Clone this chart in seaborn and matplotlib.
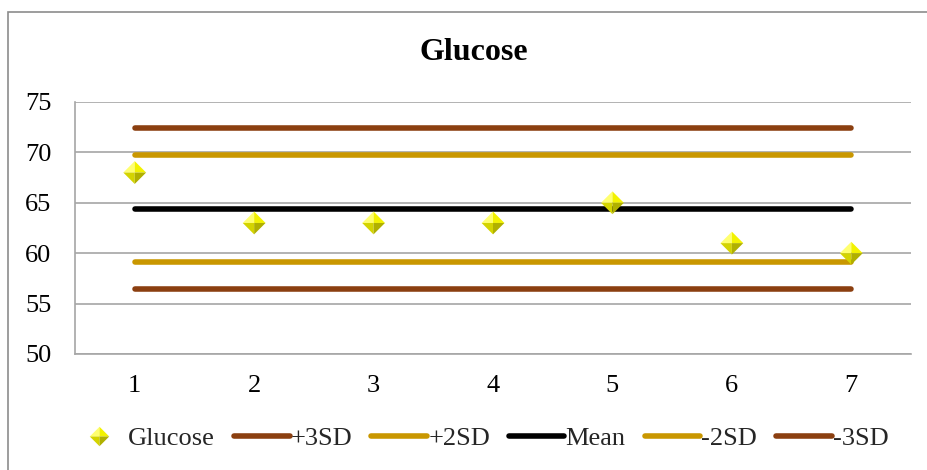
import matplotlib
matplotlib.use("Agg")
import matplotlib.pyplot as plt
import seaborn as sns
import pandas as pd
from matplotlib.patches import Rectangle
from matplotlib.legend_handler import HandlerTuple
from matplotlib.lines import Line2D

# ---- data ----
samples = [1, 2, 3, 4, 5, 6, 7]
glucose = [68, 63, 63, 63, 65, 61, 60]
limit_names = ["+3SD", "+2SD", "Mean", "-2SD", "-3SD"]
limit_values = [72.4, 69.7, 64.4, 59.1, 56.4]
limit_colors = ["#8B3F10", "#C99700", "#000000", "#C99700", "#8B3F10"]
y_ticks = [50, 55, 60, 65, 70, 75]

sns.set_theme(style="white")
plt.rcParams["font.family"] = ["Liberation Serif", "DejaVu Serif"]

fig = plt.figure(figsize=(9.27, 4.70), dpi=100)
W, H = 927, 470
ax = fig.add_axes([75 / W, 1 - 354 / H, (911 - 75) / W, (354 - 102) / H])

# limit lines
rows = []
for name, val in zip(limit_names, limit_values):
    for s in samples:
        rows.append({"sample": s, "value": val, "series": name})
df_lim = pd.DataFrame(rows)
line_handles = []
for name, col in zip(limit_names, limit_colors):
    sub = df_lim[df_lim["series"] == name]
    sns.lineplot(data=sub, x="sample", y="value", ax=ax, color=col, linewidth=4.0,
                 solid_capstyle="round", zorder=3, legend=False)
    line_handles.append(Line2D([0], [0], color=col, linewidth=4.0, solid_capstyle="round"))

# glucose diamonds with faceted shading
df_g = pd.DataFrame({"sample": samples, "glucose": glucose})
facets = [
    ([(0, 0), (-1, 0), (0, 1), (0, 0)], "#FFFF70"),   # top-left
    ([(0, 0), (0, 1), (1, 0), (0, 0)], "#F2F200"),    # top-right
    ([(0, 0), (-1, 0), (0, -1), (0, 0)], "#D4D400"),  # bottom-left
    ([(0, 0), (0, -1), (1, 0), (0, 0)], "#B0B000"),   # bottom-right
]
g_handles = []
for verts, col in facets:
    sns.scatterplot(data=df_g, x="sample", y="glucose", ax=ax, marker=verts, s=270,
                    color=col, edgecolor="none", linewidth=0, zorder=5, legend=False)
    g_handles.append(Line2D([0], [0], linestyle="none", marker=verts, markersize=14,
                            markerfacecolor=col, markeredgecolor="none"))

ax.set_xlim(0.5, 7.5)
ax.set_ylim(50, 75)
ax.set_yticks(y_ticks)
ax.set_xticks(samples)
ax.set_xlabel("")
ax.set_ylabel("")
ax.yaxis.grid(True, color="#A6A6A6", linewidth=1.2)
ax.xaxis.grid(False)
ax.set_axisbelow(True)
for side in ["top", "right"]:
    ax.spines[side].set_visible(False)
for side in ["left", "bottom"]:
    ax.spines[side].set_color("#A6A6A6")
    ax.spines[side].set_linewidth(1.2)
ax.tick_params(axis="y", length=0, pad=17, labelsize=19, labelcolor="black")
ax.tick_params(axis="x", length=0, pad=15, labelsize=19, labelcolor="black")

# title
fig.text(473.5 / W, 1 - 60 / H, "Glucose", ha="center", va="baseline",
         fontsize=23, fontweight="bold", color="black")

# legend
handles = [tuple(g_handles)] + line_handles
labels = ["Glucose"] + limit_names
fig.legend(handles, labels, loc="center", bbox_to_anchor=(480 / W, 1 - 438 / H),
           ncol=6, frameon=False, fontsize=19, handlelength=2.1, handletextpad=0.05,
           columnspacing=0.72, handler_map={tuple: HandlerTuple(ndivide=1, pad=0)})

# outer chart border
fig.patches.append(Rectangle((8 / W, -0.2), 1.2, 1.2 - 12 / H, transform=fig.transFigure,
                             fill=False, edgecolor="#8C8C8C", linewidth=1.2, clip_on=False))

fig.savefig("out.png", dpi=100)
